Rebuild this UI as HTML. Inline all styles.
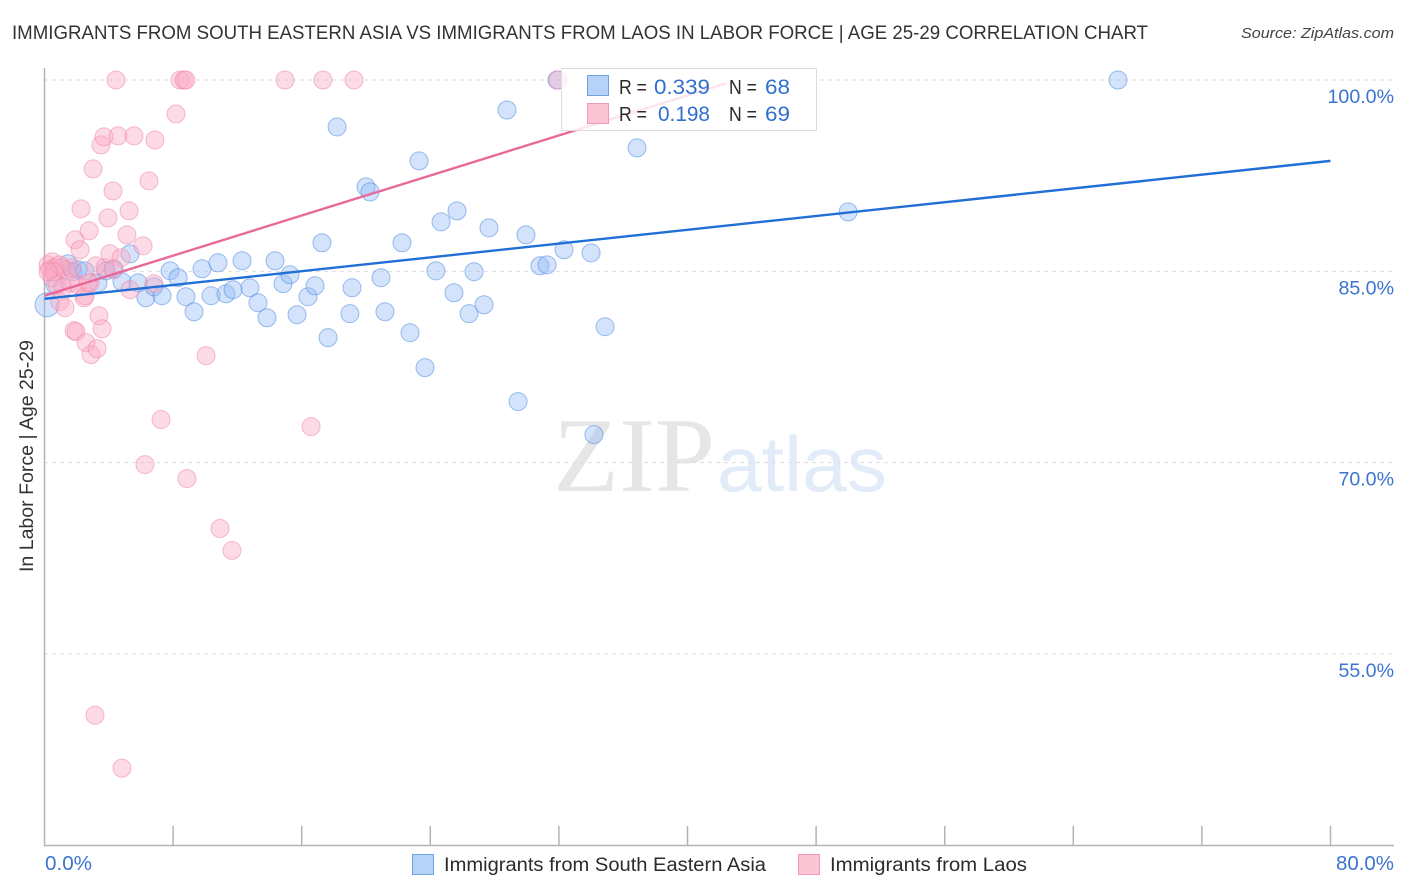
<!DOCTYPE html>
<html>
<head>
<meta charset="utf-8">
<title>Correlation Chart</title>
<style>
html,body{margin:0;padding:0;background:#fff;width:1406px;height:892px;overflow:hidden}
svg{display:block;font-family:"Liberation Sans",sans-serif}
</style>
</head>
<body>
<svg id="chart" width="1406" height="892" viewBox="0 0 1406 892" xmlns="http://www.w3.org/2000/svg">
  <text x="12" y="39" font-size="19.5" fill="#333" textLength="1136" lengthAdjust="spacingAndGlyphs">IMMIGRANTS FROM SOUTH EASTERN ASIA VS IMMIGRANTS FROM LAOS IN LABOR FORCE | AGE 25-29 CORRELATION CHART</text>
  <text x="1394" y="38" font-size="15" font-style="italic" fill="#444" text-anchor="end" textLength="153" lengthAdjust="spacingAndGlyphs">Source: ZipAtlas.com</text>
  <g>
    <text x="553" y="491" font-family="'Liberation Serif',serif" font-size="106" fill="#e6e6e6" textLength="162" lengthAdjust="spacingAndGlyphs">ZIP</text>
    <text x="717" y="491" font-size="78" fill="#e2ebf8" textLength="170" lengthAdjust="spacingAndGlyphs">atlas</text>
  </g>
  <g id="grid"></g>
  <g id="axes"></g>
  <g id="points-blue"></g>
  <g id="points-pink"></g>
  <g id="lines"></g>
  <text transform="translate(33,456) rotate(-90)" font-size="19" fill="#333" text-anchor="middle" textLength="232" lengthAdjust="spacingAndGlyphs">In Labor Force | Age 25-29</text>

  <g>
    <rect x="561.5" y="68.5" width="255" height="62" fill="#fff" fill-opacity="0.82" stroke="#dcdcdc"/>
    <rect x="587.5" y="75.5" width="21" height="20" fill="#b6d2f6" stroke="#6fa3e4"/>
    <rect x="587.5" y="103.5" width="21" height="20" fill="#fcc5d6" stroke="#f09ab6"/>
    <g font-size="20">
      <text x="619" y="94" fill="#2b2b2b" textLength="28" lengthAdjust="spacingAndGlyphs">R =</text>
      <text x="654" y="94" font-size="21" fill="#2f6fd0" textLength="56" lengthAdjust="spacingAndGlyphs">0.339</text>
      <text x="729" y="94" fill="#2b2b2b" textLength="28" lengthAdjust="spacingAndGlyphs">N =</text>
      <text x="765" y="94" font-size="21" fill="#2f6fd0" textLength="25" lengthAdjust="spacingAndGlyphs">68</text>
      <text x="619" y="121" fill="#2b2b2b" textLength="28" lengthAdjust="spacingAndGlyphs">R =</text>
      <text x="658" y="121" font-size="21" fill="#2f6fd0" textLength="52" lengthAdjust="spacingAndGlyphs">0.198</text>
      <text x="729" y="121" fill="#2b2b2b" textLength="28" lengthAdjust="spacingAndGlyphs">N =</text>
      <text x="765" y="121" font-size="21" fill="#2f6fd0" textLength="25" lengthAdjust="spacingAndGlyphs">69</text>
    </g>
  </g>

  <g>
    <rect x="412.5" y="854.5" width="21" height="20" fill="#b6d2f6" stroke="#6fa3e4"/>
    <text x="444" y="871" font-size="19" fill="#2b2b2b" textLength="322" lengthAdjust="spacingAndGlyphs">Immigrants from South Eastern Asia</text>
    <rect x="798.5" y="854.5" width="21" height="20" fill="#fcc5d6" stroke="#f09ab6"/>
    <text x="830" y="871" font-size="19" fill="#2b2b2b" textLength="197" lengthAdjust="spacingAndGlyphs">Immigrants from Laos</text>
  </g>
</svg>
<script>
const yTickValues = [100, 85, 70, 55];
const yTickLabels = ["100.0%", "85.0%", "70.0%", "55.0%"];
const xTickValues = [0, 8, 16, 24, 32, 40, 48, 56, 64, 72, 80];
const xEndLabels = ["0.0%", "80.0%"];

const blueX = [0.16,0.65,1.46,1.77,2.08,2.52,3.33,3.83,4.32,4.82,5.32,5.82,6.31,6.81,7.31,7.81,8.31,8.80,9.30,9.80,10.36,10.79,11.29,11.73,12.29,12.78,13.28,13.84,14.34,14.84,15.27,15.71,16.39,16.83,17.26,17.64,18.20,19.00,19.13,20.00,20.25,20.93,21.18,22.24,22.74,23.30,23.67,24.35,24.67,25.47,25.66,26.41,26.72,27.34,27.65,28.77,29.46,29.95,30.82,31.26,31.88,32.32,34.00,34.18,34.87,36.86,49.99,66.78];
const blueY = [82.38,83.95,85.59,84.97,85.12,85.04,84.10,85.04,85.20,84.18,86.37,84.10,82.93,83.79,83.09,85.04,84.50,83.01,81.83,85.20,83.09,85.67,83.24,83.56,85.83,83.71,82.54,81.36,85.83,84.03,84.73,81.60,83.01,83.87,87.24,79.80,96.32,81.68,83.71,91.62,91.23,84.50,81.83,87.24,80.19,93.66,77.45,85.04,88.88,83.32,89.74,81.68,84.97,82.38,88.41,97.65,74.79,87.86,85.44,85.51,100,86.69,86.45,72.20,80.66,94.68,89.66,100];

const pinkX = [0.22,0.34,0.47,0.65,0.47,0.78,0.96,1.28,1.09,1.34,1.71,1.84,1.96,1.90,2.08,2.21,2.27,2.46,2.52,2.58,2.77,2.89,3.02,2.83,3.20,3.27,3.14,3.39,3.58,3.51,3.70,3.76,3.95,4.07,4.26,4.45,4.57,4.76,4.82,5.13,5.26,5.32,5.57,6.13,6.25,6.50,6.81,6.87,7.25,8.18,8.43,8.68,8.80,8.86,10.05,10.92,11.66,14.96,16.58,17.32,19.25,31.94,4.26,2.71,1.59,0.96,0.59,0.22,1.15];
const pinkY = [85.51,85.12,85.75,85.28,84.50,83.95,82.62,82.15,85.28,85.12,85.28,80.35,80.27,87.47,83.95,86.69,89.90,82.93,83.09,79.41,88.18,78.47,93.03,84.10,85.44,78.94,50.20,81.52,80.50,94.91,95.54,85.28,89.19,86.38,91.31,100,95.62,86.06,46.05,87.86,89.74,83.56,95.62,87.00,69.85,92.09,84.03,95.30,73.38,97.34,100,100,100,68.76,78.39,64.84,63.12,100,72.83,100,100,100,85.12,84.10,84.10,85.51,84.97,84.97,83.71];

const blueTrendX = [0, 80];
const blueTrendY = [82.85, 93.66];
const pinkTrendX = [0, 42.46];
const pinkTrendY = [83.09, 99.76];

const NS = "http://www.w3.org/2000/svg";
function xScale(v) { return 44.5 + v * (1330.5 - 44.5) / 80; }
function yScale(v) { return 80 + (100 - v) * (654 - 80) / 45; }
function make(tag, attrs, parent) {
  const el = document.createElementNS(NS, tag);
  for (const k in attrs) el.setAttribute(k, attrs[k]);
  parent.appendChild(el);
  return el;
}

const gridG = document.getElementById("grid");
const axesG = document.getElementById("axes");
yTickValues.forEach(function (v, i) {
  const y = yScale(v);
  const line = make("line", {x1: 44, x2: 1394, y1: y, y2: y, stroke: "#dedede", "stroke-width": 1, "stroke-dasharray": "4 4"}, gridG);
  
  
  const label = make("text", {x: 1394, y: y + 23, "font-size": 19.6, fill: "#3b74d1", "text-anchor": "end"}, axesG);
  label.textContent = yTickLabels[i];
  
  
});

const yAxis = make("line", {x1: 44.5, x2: 44.5, y1: 68, y2: 846, stroke: "#b3b3b3", "stroke-width": 1.5}, axesG);


const xAxis = make("line", {x1: 44, x2: 1394, y1: 845.5, y2: 845.5, stroke: "#b3b3b3", "stroke-width": 1.5}, axesG);


xTickValues.slice(1).forEach(function (v) {
  const x = xScale(v);
  const tick = make("line", {x1: x, x2: x, y1: 826, y2: 845, stroke: "#b3b3b3", "stroke-width": 1.5}, axesG);
  
  
});
const xLabelLeft = make("text", {x: 45, y: 870, "font-size": 20, fill: "#3b74d1", textLength: 47, lengthAdjust: "spacingAndGlyphs"}, axesG);
xLabelLeft.textContent = xEndLabels[0];


const xLabelRight = make("text", {x: 1336, y: 870, "font-size": 20, fill: "#3b74d1", textLength: 58, lengthAdjust: "spacingAndGlyphs"}, axesG);
xLabelRight.textContent = xEndLabels[1];



const blueG = document.getElementById("points-blue");
blueX.forEach(function (v, i) {
  const c = make("circle", {cx: xScale(v), cy: yScale(blueY[i]), r: i === 0 ? 12 : 9, fill: "#93bdf5", "fill-opacity": 0.42, stroke: "#4f8be0", "stroke-opacity": 0.55, "stroke-width": 1}, blueG);
  
  
});
const pinkG = document.getElementById("points-pink");
pinkX.forEach(function (v, i) {
  const c = make("circle", {cx: xScale(v), cy: yScale(pinkY[i]), r: 9, fill: "#fbaac4", "fill-opacity": 0.42, stroke: "#ee85a9", "stroke-opacity": 0.55, "stroke-width": 1}, pinkG);
  
  
});

const linesG = document.getElementById("lines");
const pinkLine = make("line", {x1: xScale(pinkTrendX[0]), y1: yScale(pinkTrendY[0]), x2: xScale(pinkTrendX[1]), y2: yScale(pinkTrendY[1]), stroke: "#e8699a", "stroke-width": 2.4}, linesG);


const blueLine = make("line", {x1: xScale(blueTrendX[0]), y1: yScale(blueTrendY[0]), x2: xScale(blueTrendX[1]), y2: yScale(blueTrendY[1]), stroke: "#1f6fd6", "stroke-width": 2.4}, linesG);


</script>
</body>
</html>
